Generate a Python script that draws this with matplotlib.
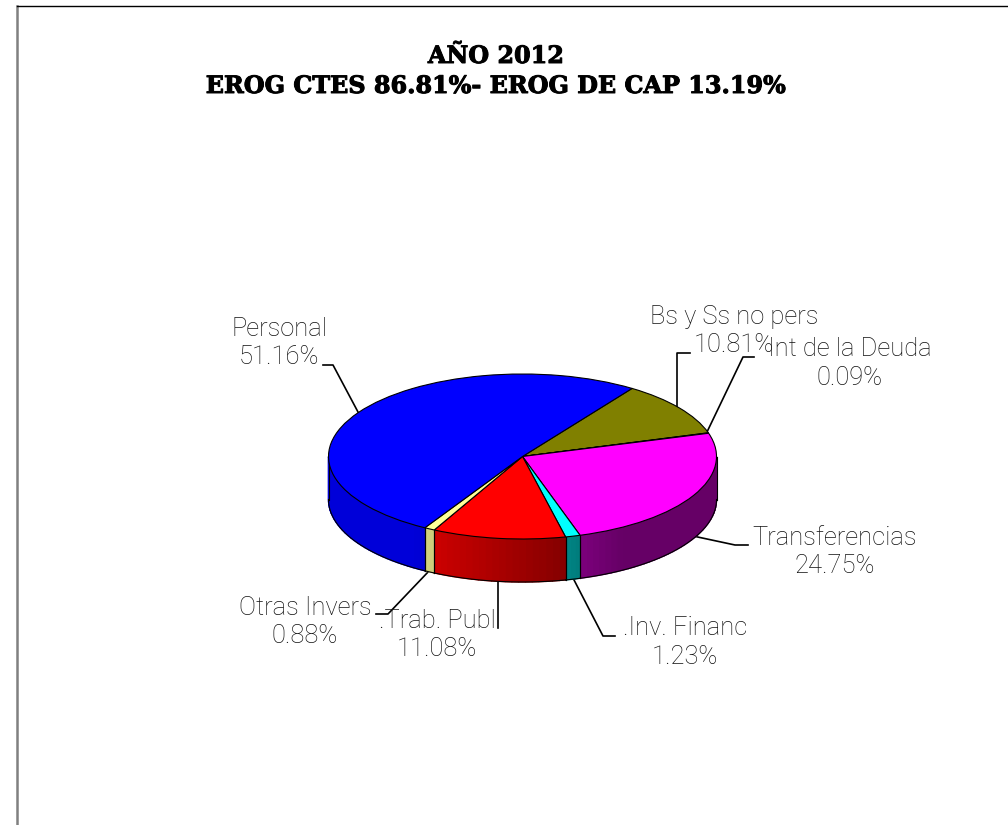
'''
Pie chart of 2012 spending shares, drawn as a flat pie on a tilted disc
'''
import numpy as np
import matplotlib
matplotlib.use('Agg')
import matplotlib.pyplot as plt
import matplotlib.patheffects as pe
from matplotlib.patches import Polygon, Wedge
from matplotlib.transforms import Affine2D

categories = ['Bs y Ss no pers', 'Int de la Deuda', 'Transferencias', '.Inv. Financ',
              '.Trab. Publ', 'Otras Invers', 'Personal']
shares = [10.81, 0.09, 24.75, 1.23, 11.08, 0.88, 51.16]
colors = ['#808000', '#ff00ff', '#ff00ff', '#00ffff', '#ff0000', '#ffff99', '#0000ff']
label_font = 'Roboto'
title_font = 'DejaVu Serif'

W, H = 1008, 825
CX, CY, RX, RY, DEPTH = 522.5, 456.5, 194, 82.5, 43
START = 55.6


def shade(x):
    return np.clip(0.61 - 0.415 * x, 0.4, 0.85)


def darker(color, f):
    r, g, b = matplotlib.colors.to_rgb(color)
    return (r * f, g * f, b * f)


fig = plt.figure(figsize=(W / 100, H / 100), dpi=100)
ax = fig.add_axes([0, 0, 1, 1])
ax.set_xlim(0, W)
ax.set_ylim(H, 0)
ax.axis('off')

# frame, only top and left show in the original
ax.plot([17, 17], [6, H], color='#808080', lw=1.8)
ax.plot([17, W], [6, 6], color='black', lw=1.0)

# stroke thickens the serif bold a bit, the original face is heavier
heavy = [pe.withStroke(linewidth=0.7, foreground='black')]
ax.text(496, 56, 'AÑO 2012', family=title_font, weight='bold', fontsize=17.2, ha='center', va='center',
        path_effects=heavy)
ax.text(496, 86, 'EROG CTES 86.81%- EROG DE CAP 13.19%', family=title_font, weight='bold',
        fontsize=17.2, ha='center', va='center', path_effects=heavy)

# clockwise from the start angle
ends = START - np.cumsum(shares) * 3.6
starts = np.concatenate([[START], ends[:-1]])
disc = Affine2D().scale(RX, -RY).translate(CX, CY) + ax.transData

# side wall, only the front half of the rim shows
for a0, a1, c in zip(starts, ends, colors):
    lo, hi = max(a1, -180), min(a0, 0)
    if hi > lo:
        edges = np.linspace(hi, lo, max(2, int((hi - lo) / 2) + 2))
        for e0, e1 in zip(edges[:-1], edges[1:]):
            xs = np.cos(np.radians([e0, e1]))
            ys = -np.sin(np.radians([e0, e1]))
            pts = [(CX + RX * xs[0], CY + RY * ys[0]), (CX + RX * xs[1], CY + RY * ys[1]),
                   (CX + RX * xs[1], CY + RY * ys[1] + DEPTH), (CX + RX * xs[0], CY + RY * ys[0] + DEPTH)]
            col = darker(c, shade(xs.mean()))
            ax.add_patch(Polygon(pts, closed=True, fc=col, ec=col, lw=1.0, zorder=2))
        t = np.radians(np.linspace(hi, lo, 60))
        ax.plot(CX + RX * np.cos(t), CY - RY * np.sin(t) + DEPTH, color='black', lw=0.8, zorder=3)
        for e in (hi, lo):
            x = CX + RX * np.cos(np.radians(e))
            y = CY - RY * np.sin(np.radians(e))
            ax.plot([x, x], [y, y + DEPTH], color='black', lw=0.8, zorder=3)

# top face
for a0, a1, c in zip(starts, ends, colors):
    ax.add_patch(Wedge((0, 0), 1, a1, a0, fc=c, ec='black', lw=0.8, transform=disc, zorder=4))

leader_x = [[358, 333, 323], [677, 677, 690], [707, 743, 754], [693, 735, 748],
            [573, 603, 615], [498, 498], [429, 388, 376]]
leader_y = [[412, 365, 365], [407, 353, 353], [432, 357, 357], [536, 545, 545],
            [578, 636, 636], [580, 628], [571, 614, 614]]
for xs, ys in zip(leader_x, leader_y):
    ax.plot(xs, ys, color='black', lw=1.2, zorder=1)

label_x = [734, 850, 835, 685, 437, 305, 279]
label_y = [331, 363.5, 552, 642.5, 635, 622, 343]
for name, val, x, y in zip(categories, shares, label_x, label_y):
    ax.text(x, y, f'{name}\n{val:.2f}%', family=label_font, weight='light', fontsize=18.4, color='#111111',
            ha='center', va='center', linespacing=1.22, zorder=6)

fig.savefig('out.png', dpi=100)
